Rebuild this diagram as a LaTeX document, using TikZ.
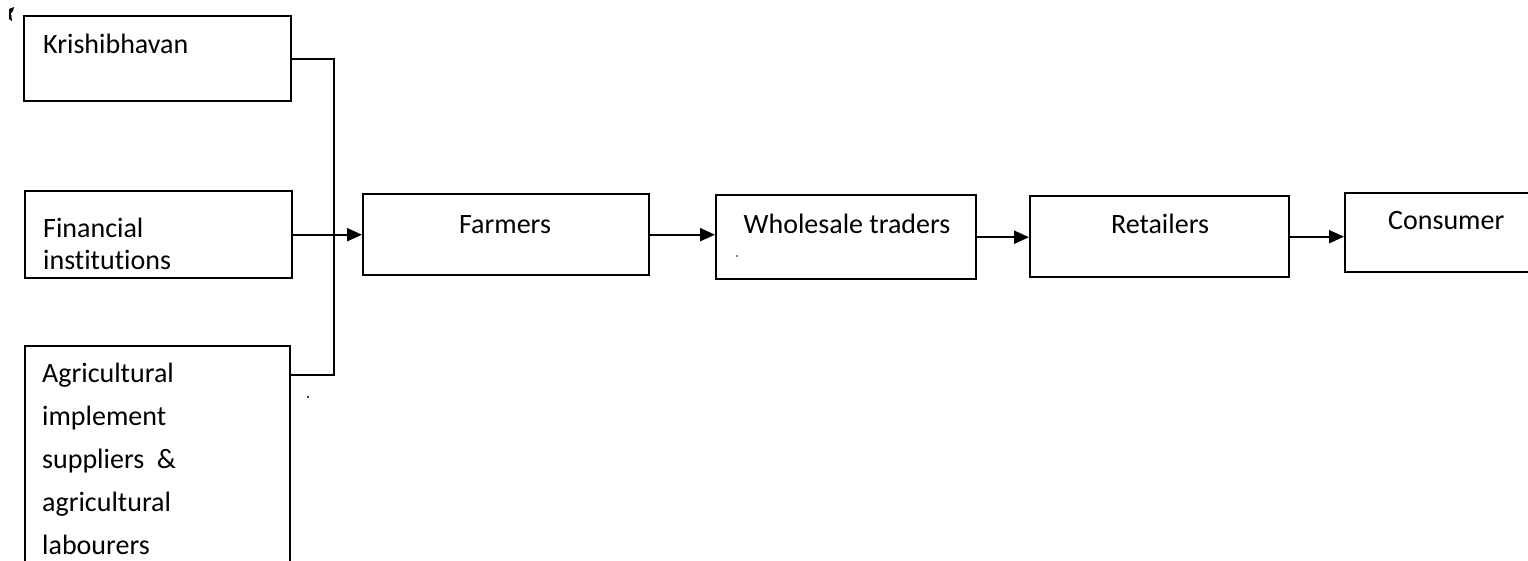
\documentclass[tikz,border=0pt]{standalone}
\usepackage{fontspec}
\setmainfont[Ligatures=NoCommon]{Carlito}
\usetikzlibrary{arrows.meta,calc}
\begin{document}
\begin{tikzpicture}[x=1pt,y=-1pt,
  box/.style={draw, line width=2.4pt, inner sep=0pt, anchor=north west},
  lbl/.style={inner sep=0pt, anchor=base west, font=\fontsize{28}{34}\selectfont},
  ctr/.style={inner sep=0pt, anchor=base, font=\fontsize{28}{34}\selectfont},
  link/.style={line width=2.2pt},
  flow/.style={link, -{Triangle[length=15pt,width=13pt]}}]
\useasboundingbox (0,0) rectangle (1528,560);

% supply-side boxes
\node[box, minimum width=267pt, minimum height=85pt] (kb) at (23,15) {};
\node[box, minimum width=267pt, minimum height=87pt] (fi) at (24,190) {};
\node[box, minimum width=265pt, minimum height=240pt] (ag) at (24,345) {};

% marketing chain boxes
\node[box, minimum width=286pt, minimum height=81pt] (fa) at (362,193) {};
\node[box, minimum width=260pt, minimum height=84pt] (ws) at (715,194) {};
\node[box, minimum width=259pt, minimum height=81pt] (re) at (1029,195) {};
\node[box, minimum width=220pt, minimum height=79pt] (co) at (1344,192) {};

% labels
\node[lbl] (kbt) at (43,53) {Krishibhavan};
\node[lbl] (fit1) at (43,237) {Financial};
\node[lbl] (fit2) at (43,269) {institutions};
\node[lbl] (agt1) at (42,382) {Agricultural};
\node[lbl] (agt2) at (42,425) {implement};
\node[lbl] (agt3) at (42,468) {suppliers~~\&};
\node[lbl] (agt4) at (42,511) {agricultural};
\node[lbl] (agt5) at (42,554) {labourers};
\node[ctr] (fat) at (505,233) {Farmers};
\node[ctr] (wst) at (847,233) {Wholesale traders};
\node[ctr] (ret) at (1160,233) {Retailers};
\node[lbl] (cot) at (1388,229) {Consumer};

% collecting bus into Farmers
\coordinate (bus) at (334,0);
\coordinate (agout) at ($(ag.north east)+(0,30)$);
\draw[link] (kb.east) -- (kb.east -| bus) -- (agout -| bus) -- (agout);
\draw[flow] (fi.east) -- (fa.west);

% chain arrows
\draw[flow] (fa.east) -- (fa.east -| ws.west);
\draw[flow] (ws.east) -- (ws.east -| re.west);
\draw[flow] (re.east) -- (re.east -| co.west);

% small marks in the margin
\fill (9,9) -- (14,7) -- (13,11) -- (11,13) -- (12,21) -- (9,19) -- cycle;
\fill (308,397) circle (1.2pt);
\fill (737,256) circle (0.8pt);
\end{tikzpicture}
\end{document}
